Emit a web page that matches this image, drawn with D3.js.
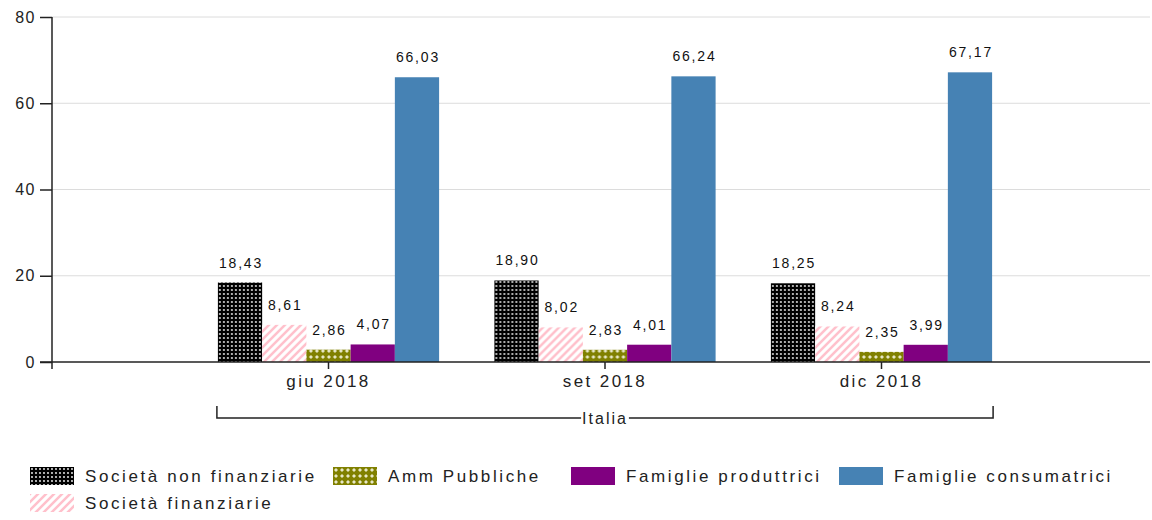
<!DOCTYPE html>
<html lang="it">
<head>
  <meta charset="UTF-8" />
  <title>Italia - settori</title>
  <script src="https://d3js.org/d3.v7.min.js"></script>
  <style>
    body { margin: 0; background: #fff; font-family: "Liberation Sans", Arial, sans-serif; }
    svg { display: block; }
    .axis text { fill: #222; font-family: "Liberation Sans", Arial, sans-serif; }
    .axis path, .axis line { stroke: #222; stroke-width: 1.5px; }
  </style>
</head>
<body>
  <svg id="chart"></svg>
  <script>
    // data
    const periods = ["giu 2018", "set 2018", "dic 2018"];
    const series = ["Società non finanziarie", "Società finanziarie", "Amm Pubbliche",
                    "Famiglie produttrici", "Famiglie consumatrici"];
    const nonFin   = [18.43, 18.90, 18.25];
    const fin      = [8.61, 8.02, 8.24];
    const ammPubb  = [2.86, 2.83, 2.35];
    const famProd  = [4.07, 4.01, 3.99];
    const famCons  = [66.03, 66.24, 67.17];
    const yTicks = [0, 20, 40, 60, 80];
    const groupLabel = "Italia";
    const legendOrder = ["Società non finanziarie", "Amm Pubbliche", "Famiglie produttrici",
                         "Famiglie consumatrici", "Società finanziarie"];

    const values = [nonFin, fin, ammPubb, famProd, famCons];
    const rows = periods.map((p, i) => ({
      period: p,
      vals: series.map((s, j) => ({ key: s, value: values[j][i] }))
    }));

    const width = 1152, height = 520;
    const margin = { top: 17, right: 2, bottom: 158, left: 52 };

    const svg = d3.select("#chart").attr("width", width).attr("height", height);

    // patterns
    const defs = svg.append("defs");
    const pDots = defs.append("pattern").attr("id", "pDots")
      .attr("patternUnits", "userSpaceOnUse").attr("width", 4).attr("height", 4);
    pDots.append("rect").attr("width", 4).attr("height", 4).attr("fill", "#000");
    pDots.append("circle").attr("cx", 2).attr("cy", 2).attr("r", 0.9).attr("fill", "#fff");

    const pStripe = defs.append("pattern").attr("id", "pStripe")
      .attr("patternUnits", "userSpaceOnUse").attr("width", 8).attr("height", 8);
    pStripe.append("rect").attr("width", 8).attr("height", 8).attr("fill", "#fff");
    pStripe.append("path").attr("d", "M-2,10 L10,-2 M-2,2 L2,-2 M6,10 L10,6")
      .attr("stroke", "#ffc0cb").attr("stroke-width", 2.5);

    const pCross = defs.append("pattern").attr("id", "pCross")
      .attr("patternUnits", "userSpaceOnUse").attr("width", 6).attr("height", 6);
    pCross.append("rect").attr("width", 6).attr("height", 6).attr("fill", "#808000");
    pCross.append("path").attr("d", "M3,1 L5,3 L3,5 L1,3 Z").attr("fill", "#e8e8c8");

    const color = d3.scaleOrdinal()
      .domain(series)
      .range(["url(#pDots)", "url(#pStripe)", "url(#pCross)", "#800080", "#4682b4"]);

    // scales
    const x0 = d3.scaleBand().domain(periods)
      .range([margin.left, 1158]).paddingInner(0.2).paddingOuter(0.6);
    const x1 = d3.scaleBand().domain(series).range([0, x0.bandwidth()]);
    const y = d3.scaleLinear().domain([0, 80]).range([362, margin.top]);

    // grid
    svg.append("g").selectAll("line").data(yTicks.slice(1)).join("line")
      .attr("x1", margin.left).attr("x2", width - margin.right)
      .attr("y1", d => y(d)).attr("y2", d => y(d))
      .attr("stroke", "#dcdcdc").attr("stroke-width", 1);

    // bars
    const g = svg.append("g").selectAll("g").data(rows).join("g")
      .attr("transform", d => `translate(${x0(d.period)},0)`);
    g.selectAll("rect").data(d => d.vals).join("rect")
      .attr("x", d => x1(d.key))
      .attr("y", d => y(d.value))
      .attr("width", x1.bandwidth())
      .attr("height", d => y(0) - y(d.value))
      .attr("fill", d => color(d.key));
    g.selectAll("text").data(d => d.vals).join("text")
      .attr("x", d => x1(d.key) + x1.bandwidth() / 2 + 1)
      .attr("y", d => y(d.value) - 15)
      .attr("text-anchor", "middle")
      .attr("font-size", 14)
      .attr("letter-spacing", 1.8)
      .attr("fill", "#111")
      .text(d => d.value.toFixed(2).replace(".", ","));

    // y axis
    svg.append("g").attr("class", "axis")
      .attr("transform", `translate(${margin.left},0)`)
      .call(d3.axisLeft(y).tickValues(yTicks).tickSize(12).tickPadding(4))
      .call(a => a.select(".domain").attr("d", `M0,${y(80)}V${y(0) + 7}`))
      .call(a => a.selectAll("text").attr("font-size", 16).attr("letter-spacing", 1.5));

    // x axis
    svg.append("g").attr("class", "axis")
      .attr("transform", `translate(0,${y(0)})`)
      .call(d3.axisBottom(x0).tickSize(7).tickPadding(6))
      .call(a => a.select(".domain").attr("d", `M40,0H${width - margin.right}`))
      .call(a => a.selectAll("text").attr("font-size", 17).attr("letter-spacing", 2.4));

    // group bracket
    const bx0 = x0(periods[0]) - 1, bx1 = x0(periods[2]) + x0.bandwidth() + 1;
    const by = y(0) + 56;
    svg.append("path")
      .attr("d", `M${bx0},${by - 12}V${by}H${bx1}V${by - 12}`)
      .attr("fill", "none").attr("stroke", "#222").attr("stroke-width", 1.5);
    const mask = svg.append("rect").attr("fill", "#fff");
    const lbl = svg.append("text")
      .attr("x", (bx0 + bx1) / 2).attr("y", by + 6)
      .attr("text-anchor", "middle").attr("font-size", 16).attr("letter-spacing", 2)
      .attr("fill", "#222")
      .text(groupLabel);
    const bb = lbl.node().getBBox();
    mask.attr("x", bb.x - 1).attr("y", by - 2).attr("width", bb.width + 2).attr("height", 4);

    // legend
    const legX = [30, 333, 571, 839, 30];
    const legY = [467, 467, 467, 467, 494];
    const leg = svg.append("g").selectAll("g").data(legendOrder).join("g")
      .attr("transform", (d, i) => `translate(${legX[i]},${legY[i]})`);
    leg.append("rect").attr("width", 44).attr("height", 18).attr("fill", d => color(d));
    leg.append("text").attr("x", 55).attr("y", 15).attr("font-size", 17)
      .attr("letter-spacing", 2.6).attr("fill", "#222")
      .text(d => d);
  </script>
</body>
</html>
